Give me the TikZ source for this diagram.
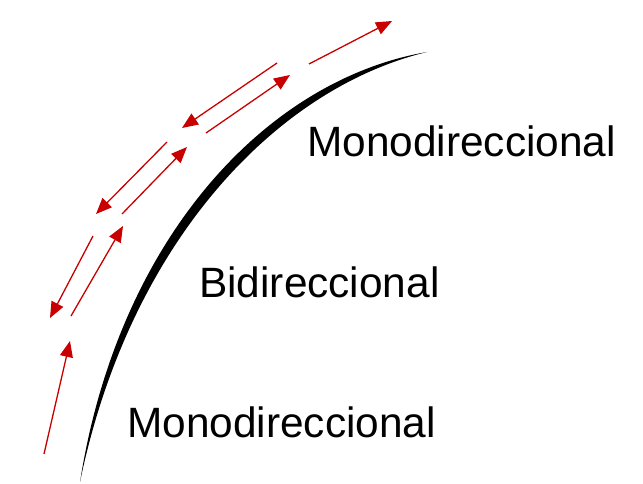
\documentclass[tikz,border=0pt]{standalone}
\usepackage{fontspec}
\setmainfont{Liberation Sans}
\usetikzlibrary{arrows.meta}
\definecolor{arrowred}{RGB}{200,0,0}
\tikzset{
  flow/.style={draw=arrowred, line width=1.3pt, -{Triangle[length=16pt,width=13pt]}},
  lbl/.style={anchor=base west, inner sep=0pt, font=\fontsize{42.4}{42.4}\selectfont}
}
\begin{document}
\begin{tikzpicture}[x=1pt,y=-1pt]
\useasboundingbox (0,0) rectangle (643,484);
% tapered curve
\fill[black]
  (80,482) .. controls (118,240) and (265,80) .. (427,52)
  .. controls (274,89) and (129,245) .. (80,482) -- cycle;
% arrow endpoints
\coordinate (a1s) at (44,454); \coordinate (a1e) at (70,341);
\coordinate (a2s) at (93,236); \coordinate (a2e) at (50,318);
\coordinate (a3s) at (71,316); \coordinate (a3e) at (123,226);
\coordinate (a4s) at (167,142); \coordinate (a4e) at (96,214);
\coordinate (a5s) at (122,214); \coordinate (a5e) at (187,147);
\coordinate (a6s) at (277,63); \coordinate (a6e) at (182,128);
\coordinate (a7s) at (206,133); \coordinate (a7e) at (290,75);
\coordinate (a8s) at (309,64); \coordinate (a8e) at (392,21);
\foreach \i in {1,...,8} \draw[flow] (a\i s) -- (a\i e);
% labels
\node[lbl] (top) at (307,157) {Monodireccional};
\node[lbl] (mid) at (199,297) {Bidireccional};
\node[lbl] (bot) at (127,437) {Monodireccional};
\end{tikzpicture}
\end{document}
